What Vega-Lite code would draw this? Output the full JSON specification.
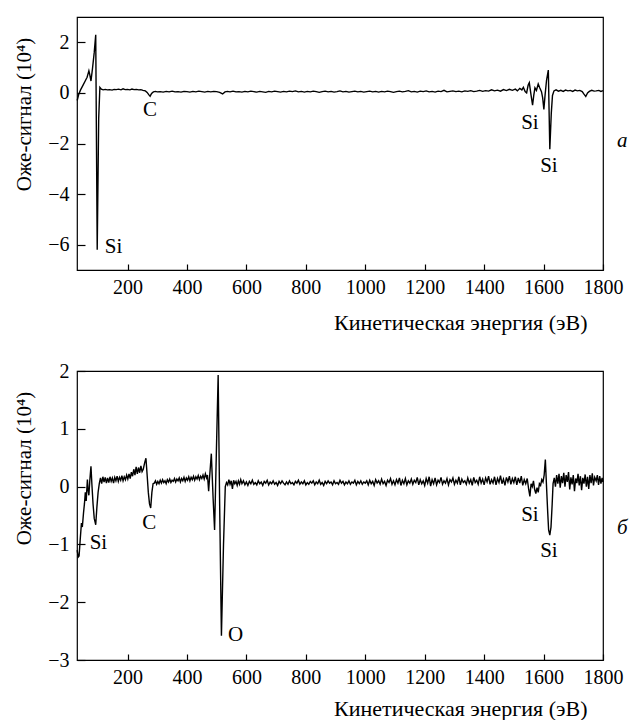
{
  "$schema": "https://vega.github.io/schema/vega-lite/v6.json",
  "background": "white",
  "padding": {"left": 12, "top": 16, "right": 0, "bottom": 0},
  "spacing": 26,
  "config": {
    "font": "Liberation Serif",
    "view": {"stroke": "black", "strokeWidth": 1.2},
    "axis": {
      "grid": false, "domain": false, "tickColor": "black", "tickWidth": 1.2,
      "labelOverlap": false, "labelFlush": false,
      "labelFont": "Liberation Serif", "labelFontSize": 20, "labelColor": "black",
      "titleFont": "Liberation Serif", "titleFontSize": 22, "titleColor": "black", "titleFontWeight": "normal"
    },
    "text": {"font": "Liberation Serif", "fontSize": 21, "color": "black"}
  },
  "datasets": {
    "a": [
      {"e":30.6,"s":-0.3},{"e":36,"s":-0.05},{"e":42,"s":0.12},{"e":50,"s":0.3},{"e":58,"s":0.48},{"e":64,"s":0.62},{"e":70,"s":0.87},{"e":73,"s":0.72},{"e":77,"s":0.47},{"e":82,"s":0.95},{"e":88,"s":1.6},{"e":93,"s":2.3},{"e":98,"s":-6.2},{"e":103,"s":-1.0},{"e":107,"s":0.22},{"e":112,"s":0.15},{"e":118,"s":0.12},{"e":125,"s":0.14},{"e":132,"s":0.12},{"e":140,"s":0.13},{"e":148,"s":0.11},{"e":155,"s":0.14},{"e":162,"s":0.13},{"e":170,"s":0.15},{"e":178,"s":0.12},{"e":185,"s":0.16},{"e":192,"s":0.13},{"e":200,"s":0.14},{"e":208,"s":0.12},{"e":215,"s":0.15},{"e":222,"s":0.13},{"e":230,"s":0.14},{"e":238,"s":0.12},{"e":245,"s":0.13},{"e":252,"s":0.1},{"e":260,"s":0.08},{"e":266,"s":0.02},{"e":272,"s":-0.08},{"e":276,"s":-0.13},{"e":281,"s":-0.02},{"e":287,"s":0.04},{"e":294,"s":0.06},{"e":300,"s":0.04},
      {"e":310,"s":0.05},{"e":320,"s":0.03},{"e":330,"s":0.06},{"e":340,"s":0.04},{"e":350,"s":0.07},{"e":360,"s":0.04},{"e":370,"s":0.05},{"e":380,"s":0.03},{"e":390,"s":0.06},{"e":400,"s":0.05},{"e":410,"s":0.03},{"e":420,"s":0.06},{"e":430,"s":0.04},{"e":440,"s":0.07},{"e":450,"s":0.05},{"e":460,"s":0.03},{"e":470,"s":0.06},{"e":480,"s":0.04},{"e":490,"s":0.06},{"e":500,"s":0.05},{"e":510,"s":0.02},{"e":520,"s":-0.04},{"e":528,"s":0.04},{"e":536,"s":0.06},{"e":545,"s":0.04},{"e":555,"s":0.07},{"e":565,"s":0.04},{"e":575,"s":0.05},{"e":585,"s":0.03},{"e":595,"s":0.06},{"e":605,"s":0.04},{"e":615,"s":0.07},{"e":625,"s":0.05},{"e":635,"s":0.03},{"e":645,"s":0.06},{"e":655,"s":0.04},{"e":665,"s":0.02},{"e":675,"s":0.06},{"e":685,"s":0.04},{"e":695,"s":0.07},{"e":705,"s":0.05},{"e":715,"s":0.03},{"e":725,"s":0.06},{"e":735,"s":0.04},{"e":745,"s":0.07},{"e":755,"s":0.05},{"e":765,"s":0.08},{"e":775,"s":0.04},{"e":785,"s":0.06},{"e":795,"s":0.03},{"e":805,"s":0.06},{"e":815,"s":0.04},{"e":825,"s":0.07},{"e":835,"s":0.05},{"e":845,"s":0.02},{"e":855,"s":0.05},{"e":865,"s":0.07},{"e":875,"s":0.04},{"e":885,"s":0.06},{"e":895,"s":0.03},{"e":905,"s":0.05},{"e":915,"s":0.08},{"e":925,"s":0.04},{"e":935,"s":0.06},{"e":945,"s":0.03},{"e":955,"s":0.05},{"e":965,"s":0.07},{"e":975,"s":0.04},{"e":985,"s":0.06},{"e":995,"s":0.03},{"e":1005,"s":0.05},{"e":1015,"s":0.07},{"e":1025,"s":0.04},{"e":1035,"s":0.06},{"e":1045,"s":0.03},{"e":1055,"s":0.06},{"e":1065,"s":0.04},{"e":1075,"s":0.07},{"e":1085,"s":0.05},{"e":1095,"s":0.02},{"e":1105,"s":0.05},{"e":1115,"s":0.07},{"e":1125,"s":0.04},{"e":1135,"s":0.06},{"e":1145,"s":0.09},{"e":1155,"s":0.04},{"e":1165,"s":0.06},{"e":1175,"s":0.03},{"e":1185,"s":0.07},{"e":1195,"s":0.05},{"e":1205,"s":0.08},{"e":1215,"s":0.04},{"e":1225,"s":0.06},{"e":1235,"s":0.03},{"e":1245,"s":0.07},{"e":1255,"s":0.05},{"e":1265,"s":0.1},{"e":1275,"s":0.04},{"e":1285,"s":0.06},{"e":1295,"s":0.08},{"e":1305,"s":0.05},{"e":1315,"s":0.07},{"e":1325,"s":0.04},{"e":1335,"s":0.08},{"e":1345,"s":0.06},{"e":1355,"s":0.09},{"e":1365,"s":0.05},{"e":1375,"s":0.07},{"e":1385,"s":0.1},{"e":1395,"s":0.06},{"e":1405,"s":0.09},{"e":1415,"s":0.07},{"e":1425,"s":0.12},{"e":1435,"s":0.08},{"e":1445,"s":0.11},{"e":1455,"s":0.07},{"e":1465,"s":0.13},{"e":1475,"s":0.09},{"e":1485,"s":0.14},{"e":1495,"s":0.1},{"e":1505,"s":0.15},{"e":1512,"s":0.08},{"e":1520,"s":0.18},{"e":1527,"s":0.12},{"e":1532,"s":0.22},{"e":1538,"s":0.05},{"e":1543,"s":0.0},{"e":1548,"s":0.3},{"e":1552,"s":0.4},{"e":1558,"s":-0.1},{"e":1563,"s":-0.48},{"e":1567,"s":-0.1},{"e":1571,"s":0.2},{"e":1576,"s":0.1},{"e":1582,"s":0.35},{"e":1587,"s":0.2},{"e":1593,"s":0.05},{"e":1597,"s":-0.2},{"e":1601,"s":-0.65},{"e":1605,"s":-0.1},{"e":1610,"s":0.5},{"e":1616,"s":0.9},{"e":1621,"s":-2.23},{"e":1626,"s":-0.8},{"e":1630,"s":-0.1},{"e":1635,"s":0.08},{"e":1642,"s":0.12},{"e":1650,"s":0.07},{"e":1658,"s":0.1},{"e":1666,"s":0.06},{"e":1674,"s":0.11},{"e":1682,"s":0.08},{"e":1690,"s":0.1},{"e":1698,"s":0.06},{"e":1706,"s":0.11},{"e":1714,"s":0.08},{"e":1722,"s":0.1},{"e":1730,"s":0.05},{"e":1736,"s":-0.05},{"e":1742,"s":-0.14},{"e":1748,"s":0.0},{"e":1754,"s":0.06},{"e":1762,"s":0.1},{"e":1770,"s":0.07},{"e":1777,"s":0.08},{"e":1786,"s":0.1},{"e":1793,"s":0.06},{"e":1800,"s":0.09}
    ],
    "b": [
      {"e":30.6,"s":-1.1},{"e":34,"s":-1.22},{"e":37,"s":-1.2},{"e":41,"s":-0.9},{"e":45,"s":-0.63},{"e":48,"s":-0.7},{"e":52,"s":-0.45},{"e":55,"s":-0.3},{"e":58,"s":-0.1},{"e":61,"s":-0.25},{"e":63,"s":-0.05},{"e":65,"s":0.12},{"e":67,"s":-0.05},{"e":70,"s":-0.15},{"e":73,"s":0.1},{"e":77,"s":0.35},{"e":80,"s":0.05},{"e":84,"s":-0.3},{"e":88,"s":-0.55},{"e":93,"s":-0.66},{"e":97,"s":-0.35},{"e":101,"s":-0.1},{"e":105,"s":0.05},{"e":109,"s":0.15},{"e":113,"s":0.05},{"e":117,"s":0.17},{"e":121,"s":0.08},{"e":125,"s":0.16},{"e":129,"s":0.06},{"e":133,"s":0.15},{"e":137,"s":0.07},{"e":141,"s":0.17},{"e":145,"s":0.09},{"e":149,"s":0.15},{"e":153,"s":0.06},{"e":157,"s":0.16},{"e":161,"s":0.1},{"e":165,"s":0.18},{"e":169,"s":0.09},{"e":173,"s":0.16},{"e":177,"s":0.11},{"e":181,"s":0.19},{"e":185,"s":0.1},{"e":189,"s":0.17},{"e":193,"s":0.12},{"e":197,"s":0.2},{"e":201,"s":0.13},{"e":205,"s":0.22},{"e":209,"s":0.14},{"e":213,"s":0.25},{"e":217,"s":0.18},{"e":221,"s":0.3},{"e":225,"s":0.2},{"e":229,"s":0.34},{"e":233,"s":0.22},{"e":237,"s":0.33},{"e":241,"s":0.24},{"e":245,"s":0.36},{"e":249,"s":0.26},{"e":253,"s":0.3},{"e":258,"s":0.42},{"e":262,"s":0.49},{"e":266,"s":0.2},{"e":270,"s":-0.1},{"e":274,"s":-0.3},{"e":278,"s":-0.37},{"e":282,"s":-0.1},{"e":286,"s":0.05},{"e":290,"s":0.06},{"e":294,"s":0.1},{"e":298,"s":0.04},{"e":302,"s":0.09},{"e":306,"s":0.05},{"e":310,"s":0.11},{"e":314,"s":0.06},{"e":318,"s":0.12},{"e":322,"s":0.07},{"e":326,"s":0.1},{"e":330,"s":0.05},{"e":334,"s":0.12},{"e":338,"s":0.08},{"e":342,"s":0.13},{"e":346,"s":0.07},{"e":350,"s":0.11},{"e":354,"s":0.09},{"e":358,"s":0.14},{"e":362,"s":0.08},{"e":366,"s":0.13},{"e":370,"s":0.1},{"e":374,"s":0.15},{"e":378,"s":0.08},{"e":382,"s":0.14},{"e":386,"s":0.1},{"e":390,"s":0.16},{"e":394,"s":0.09},{"e":398,"s":0.15},{"e":402,"s":0.11},{"e":406,"s":0.17},{"e":410,"s":0.1},{"e":414,"s":0.16},{"e":418,"s":0.12},{"e":422,"s":0.18},{"e":426,"s":0.11},{"e":430,"s":0.17},{"e":434,"s":0.13},{"e":438,"s":0.19},{"e":442,"s":0.12},{"e":446,"s":0.18},{"e":450,"s":0.14},{"e":454,"s":0.2},{"e":458,"s":0.13},{"e":462,"s":0.22},{"e":466,"s":0.15},{"e":469,"s":0.2},{"e":473,"s":-0.08},{"e":476,"s":0.15},{"e":482,"s":0.57},{"e":488,"s":-0.2},{"e":493,"s":-0.75},{"e":499,"s":0.6},{"e":505,"s":1.93},{"e":510,"s":-0.3},{"e":516,"s":-2.58},{"e":523,"s":-1.0},{"e":529,"s":0.0},{"e":533,"s":0.07},{"e":537,"s":0.03},{"e":541,"s":0.12},{"e":545,"s":0.04},{"e":549,"s":0.1},{"e":553,"s":-0.04},{"e":557,"s":0.11},{"e":561,"s":0.05},{"e":565,"s":0.09},{"e":569,"s":0.02},{"e":573,"s":0.1},{"e":577,"s":0.04},{"e":581,"s":0.12},
      {"e":585,"s":0.05},{"e":590,"s":0.1},{"e":595,"s":0.03},{"e":600,"s":0.08},{"e":605,"s":0.02},{"e":610,"s":0.09},{"e":615,"s":0.05},{"e":620,"s":0.11},{"e":625,"s":0.04},{"e":630,"s":0.07},{"e":635,"s":0.03},{"e":640,"s":0.1},{"e":645,"s":0.05},{"e":650,"s":0.08},{"e":655,"s":0.02},{"e":660,"s":0.09},{"e":665,"s":0.06},{"e":670,"s":0.11},{"e":675,"s":0.03},{"e":680,"s":0.08},{"e":685,"s":0.05},{"e":690,"s":0.1},{"e":695,"s":0.04},{"e":700,"s":0.07},{"e":705,"s":0.02},{"e":710,"s":0.09},{"e":715,"s":0.05},{"e":720,"s":0.1},{"e":725,"s":0.06},{"e":730,"s":0.03},{"e":735,"s":0.08},{"e":740,"s":0.04},{"e":745,"s":0.1},{"e":750,"s":0.05},{"e":755,"s":0.07},{"e":760,"s":0.03},{"e":765,"s":0.09},{"e":770,"s":0.06},{"e":775,"s":0.11},{"e":780,"s":0.04},{"e":785,"s":0.08},{"e":790,"s":0.05},{"e":795,"s":0.1},{"e":800,"s":0.03},{"e":805,"s":0.07},{"e":810,"s":0.04},{"e":815,"s":0.09},{"e":820,"s":0.06},{"e":825,"s":0.1},{"e":830,"s":0.03},{"e":835,"s":0.08},{"e":840,"s":0.05},{"e":845,"s":0.11},{"e":850,"s":0.04},{"e":855,"s":0.07},{"e":860,"s":0.02},{"e":865,"s":0.09},{"e":870,"s":0.05},{"e":875,"s":0.1},{"e":880,"s":0.06},{"e":885,"s":0.08},{"e":890,"s":0.03},{"e":895,"s":0.1},{"e":900,"s":0.05},{"e":905,"s":0.07},{"e":910,"s":0.04},{"e":915,"s":0.11},{"e":920,"s":0.06},{"e":925,"s":0.09},{"e":930,"s":0.03},{"e":935,"s":0.08},{"e":940,"s":0.05},{"e":945,"s":0.1},{"e":950,"s":0.04},{"e":955,"s":0.08},{"e":960,"s":0.06},{"e":965,"s":0.11},{"e":970,"s":0.03},{"e":975,"s":0.09},{"e":980,"s":0.05},{"e":985,"s":0.1},{"e":990,"s":0.04},{"e":995,"s":0.08},{"e":1000,"s":0.06},
      {"e":1005,"s":0.1},{"e":1010,"s":0.03},{"e":1015,"s":0.11},{"e":1020,"s":0.05},{"e":1025,"s":0.09},{"e":1030,"s":0.02},{"e":1035,"s":0.12},{"e":1040,"s":0.06},{"e":1045,"s":0.1},{"e":1050,"s":0.04},{"e":1055,"s":0.13},{"e":1060,"s":0.05},{"e":1065,"s":0.09},{"e":1070,"s":0.02},{"e":1075,"s":0.11},{"e":1080,"s":0.07},{"e":1085,"s":0.14},{"e":1090,"s":0.04},{"e":1095,"s":0.1},{"e":1100,"s":0.03},{"e":1105,"s":0.12},{"e":1110,"s":0.06},{"e":1115,"s":0.15},{"e":1120,"s":0.02},{"e":1125,"s":0.11},{"e":1130,"s":0.05},{"e":1135,"s":0.14},{"e":1140,"s":0.03},{"e":1145,"s":0.1},{"e":1150,"s":0.06},{"e":1155,"s":0.13},{"e":1160,"s":0.04},{"e":1165,"s":0.11},{"e":1170,"s":0.07},{"e":1175,"s":0.16},{"e":1180,"s":0.03},{"e":1185,"s":0.12},{"e":1190,"s":0.05},{"e":1195,"s":0.1},{"e":1200,"s":0.02},{"e":1205,"s":0.14},{"e":1210,"s":0.06},{"e":1215,"s":0.17},{"e":1220,"s":0.01},{"e":1225,"s":0.12},{"e":1230,"s":0.05},{"e":1235,"s":0.15},{"e":1240,"s":0.03},{"e":1245,"s":0.11},{"e":1250,"s":0.07},{"e":1255,"s":0.16},{"e":1260,"s":0.04},{"e":1265,"s":0.1},{"e":1270,"s":0.06},{"e":1275,"s":0.14},{"e":1280,"s":0.03},{"e":1285,"s":0.12},{"e":1290,"s":0.08},{"e":1295,"s":0.15},{"e":1300,"s":0.04},{"e":1305,"s":0.11},{"e":1310,"s":0.06},{"e":1315,"s":0.17},{"e":1320,"s":0.03},{"e":1325,"s":0.13},{"e":1330,"s":0.07},{"e":1335,"s":0.1},{"e":1340,"s":0.04},{"e":1345,"s":0.15},{"e":1350,"s":0.06},{"e":1355,"s":0.12},{"e":1360,"s":0.02},{"e":1365,"s":0.16},{"e":1370,"s":0.07},{"e":1375,"s":0.11},{"e":1380,"s":0.04},{"e":1385,"s":0.17},{"e":1390,"s":0.06},{"e":1395,"s":0.13},{"e":1400,"s":0.03},{"e":1405,"s":0.15},{"e":1410,"s":0.08},{"e":1415,"s":0.18},{"e":1420,"s":0.04},{"e":1425,"s":0.12},{"e":1430,"s":0.06},{"e":1435,"s":0.17},{"e":1440,"s":0.03},{"e":1445,"s":0.14},{"e":1450,"s":0.07},{"e":1455,"s":0.19},{"e":1460,"s":0.05},{"e":1465,"s":0.13},{"e":1470,"s":0.02},{"e":1475,"s":0.16},{"e":1480,"s":0.08},{"e":1485,"s":0.18},{"e":1490,"s":0.04},{"e":1495,"s":0.14},{"e":1500,"s":0.07},{"e":1505,"s":0.17},{"e":1510,"s":0.03},{"e":1515,"s":0.15},{"e":1520,"s":0.06},{"e":1525,"s":0.18},{"e":1530,"s":0.02},{"e":1535,"s":0.12},{"e":1540,"s":0.05},{"e":1545,"s":0.14},{"e":1550,"s":-0.05},{"e":1554,"s":-0.17},{"e":1558,"s":0.05},{"e":1562,"s":0.0},{"e":1566,"s":0.1},{"e":1570,"s":-0.05},{"e":1574,"s":-0.12},{"e":1578,"s":-0.02},{"e":1582,"s":-0.1},{"e":1586,"s":0.05},{"e":1590,"s":0.02},{"e":1594,"s":0.12},{"e":1598,"s":0.08},{"e":1602,"s":0.2},{"e":1606,"s":0.47},{"e":1610,"s":0.0},{"e":1614,"s":-0.45},{"e":1617,"s":-0.75},{"e":1621,"s":-0.84},{"e":1625,"s":-0.7},{"e":1629,"s":-0.3},{"e":1632,"s":0.05},{"e":1636,"s":0.15},{"e":1640,"s":0.0},{"e":1644,"s":0.2},{"e":1648,"s":0.05},{"e":1652,"s":0.22},{"e":1656,"s":-0.02},{"e":1660,"s":0.18},{"e":1664,"s":0.06},{"e":1668,"s":0.24},{"e":1672,"s":0.0},{"e":1676,"s":0.2},{"e":1680,"s":0.08},{"e":1684,"s":0.25},{"e":1688,"s":-0.05},{"e":1692,"s":0.16},{"e":1696,"s":0.04},{"e":1700,"s":0.2},{"e":1704,"s":-0.08},{"e":1708,"s":0.14},{"e":1712,"s":0.06},{"e":1716,"s":0.22},{"e":1720,"s":0.02},{"e":1724,"s":0.18},{"e":1728,"s":-0.06},{"e":1732,"s":0.15},{"e":1736,"s":0.05},{"e":1740,"s":0.21},{"e":1744,"s":0.0},{"e":1748,"s":0.17},{"e":1752,"s":-0.04},{"e":1756,"s":0.2},{"e":1760,"s":0.06},{"e":1764,"s":0.23},{"e":1768,"s":0.02},{"e":1772,"s":0.16},{"e":1777,"s":0.1},{"e":1781,"s":0.2},{"e":1785,"s":0.03},{"e":1789,"s":0.18},{"e":1793,"s":0.05},{"e":1797,"s":0.15},{"e":1800,"s":0.08}
    ],
    "la": [
      {"e":153,"s":-6.1,"t":"Si"},{"e":276,"s":-0.67,"t":"C"},{"e":1554,"s":-1.18,"t":"Si"},{"e":1618,"s":-2.87,"t":"Si"}
    ],
    "lb": [
      {"e":102,"s":-0.98,"t":"Si"},{"e":273,"s":-0.63,"t":"C"},{"e":564,"s":-2.57,"t":"O"},{"e":1554,"s":-0.49,"t":"Si"},{"e":1618,"s":-1.12,"t":"Si"}
    ],
    "pa": [{"e":1865,"s":-1.9,"t":"a"}],
    "pb": [{"e":1865,"s":-0.71,"t":"б"}]
  },
  "vconcat": [
    {
      "width": 526, "height": 253,
      "encoding": {
        "x": {"field": "e", "type": "quantitative", "scale": {"domain": [30, 1800], "nice": false, "zero": false},
          "axis": {"values": [200,400,600,800,1000,1200,1400,1600,1800], "tickSize": -6, "labelPadding": 13, "format": "d",
            "title": "Кинетическая энергия (эВ)", "titleX": 510, "titleY": 59, "titleAlign": "right", "titleBaseline": "alphabetic"}},
        "y": {"field": "s", "type": "quantitative", "scale": {"domain": [-7, 3], "nice": false},
          "axis": {"values": [-6,-4,-2,0,2], "tickSize": -8, "labelPadding": 16,
            "title": "Оже-сигнал (10⁴)", "titleFontSize": 21, "titleX": -53, "titleY": 97, "titleAlign": "center", "titleBaseline": "middle", "titleAngle": -90}}
      },
      "layer": [
        {"data": {"name": "a"}, "mark": {"type": "line", "color": "black", "strokeWidth": 1.4}},
        {"data": {"name": "la"}, "mark": {"type": "text", "align": "center", "baseline": "middle"}, "encoding": {"text": {"field": "t"}}},
        {"data": {"name": "pa"}, "mark": {"type": "text", "align": "center", "baseline": "middle", "fontStyle": "italic"}, "encoding": {"text": {"field": "t"}}}
      ]
    },
    {
      "width": 526, "height": 289,
      "encoding": {
        "x": {"field": "e", "type": "quantitative", "scale": {"domain": [30, 1800], "nice": false, "zero": false},
          "axis": {"values": [200,400,600,800,1000,1200,1400,1600,1800], "tickSize": -6, "labelPadding": 13, "format": "d",
            "title": "Кинетическая энергия (эВ)", "titleX": 510, "titleY": 55, "titleAlign": "right", "titleBaseline": "alphabetic"}},
        "y": {"field": "s", "type": "quantitative", "scale": {"domain": [-3, 2], "nice": false},
          "axis": {"values": [-3,-2,-1,0,1,2], "tickSize": -8, "labelPadding": 16,
            "title": "Оже-сигнал (10⁴)", "titleFontSize": 21, "titleX": -53, "titleY": 97, "titleAlign": "center", "titleBaseline": "middle", "titleAngle": -90}}
      },
      "layer": [
        {"data": {"name": "b"}, "mark": {"type": "line", "color": "black", "strokeWidth": 1.4}},
        {"data": {"name": "lb"}, "mark": {"type": "text", "align": "center", "baseline": "middle"}, "encoding": {"text": {"field": "t"}}},
        {"data": {"name": "pb"}, "mark": {"type": "text", "align": "center", "baseline": "middle", "fontStyle": "italic"}, "encoding": {"text": {"field": "t"}}}
      ]
    }
  ]
}
